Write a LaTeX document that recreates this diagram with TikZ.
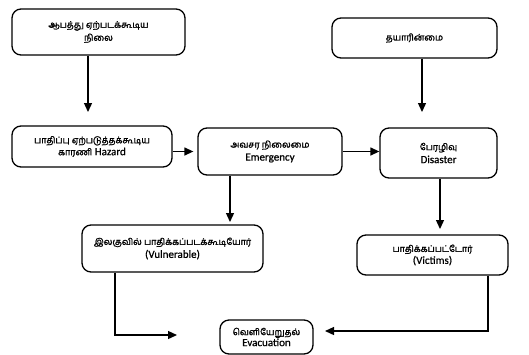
\documentclass[tikz,border=0pt]{standalone}
\usepackage{fontspec}
\setmainfont{Carlito}[FakeBold=0.8]
\newfontfamily\tamil[Script=Tamil,FakeBold=1.6]{Hind Madurai}
\usetikzlibrary{arrows.meta,calc}
\tikzset{
  box/.style={draw=black, line width=1.3pt, rounded corners=9pt, align=center, inner sep=1pt, font=\fontsize{11}{13}\selectfont},
  arr/.style={line width=1.3pt, -{Triangle[length=9pt,width=8pt]}},
  ln/.style={line width=1.3pt}
}
\newcommand{\ta}[1]{{\tamil\fontsize{9}{10}\selectfont #1}}
\begin{document}
\begin{tikzpicture}[x=1pt,y=1pt]
\useasboundingbox[fill=white] (0,0) rectangle (529,-354);
\node[box, minimum width=173pt, minimum height=46pt] (tl) at (98.5,-32) {\ta{ஆபத்து ஏற்படக்கூடிய}\\[0pt]\ta{நிலை}};
\node[box, minimum width=165pt, minimum height=40pt] (tr) at (414.5,-38) {\ta{தயாரின்மை}};
\node[box, minimum width=160pt, minimum height=41pt] (hz) at (92,-146.5) {\ta{பாதிப்பு ஏற்படுத்தக்கூடிய}\\[-1pt]\ta{காரணி} Hazard};
\node[box, minimum width=144pt, minimum height=47pt] (em) at (270,-151.5) {\ta{அவசர நிலைமை}\\[0pt]Emergency};
\node[box, minimum width=117pt, minimum height=50pt] (ds) at (438.5,-153) {\ta{பேரழிவு}\\[0pt]Disaster};
\node[box, minimum width=181pt, minimum height=47pt] (vu) at (172.5,-248.5) {\ta{இலகுவில் பாதிக்கப்படக்கூடியோர்}\\[0pt](Vulnerable)};
\node[box, minimum width=151pt, minimum height=40pt] (vi) at (432.5,-255) {\ta{பாதிக்கப்பட்டோர்}\\[-1pt](Victims)};
\node[box, minimum width=93pt, minimum height=34pt] (ev) at (266.5,-337) {\ta{வெளியேறுதல்}\\[-2pt]Evacuation};
\coordinate (a1) at (88,-112);
\coordinate (a2) at (422,-112);
\coordinate (a3) at (230,-222);
\coordinate (a4) at (440,-229);
\coordinate (v1) at (115,-335);
\coordinate (v2) at (177,-335);
\coordinate (w1) at (488,-331);
\coordinate (w2) at (325,-331);
\draw[arr] (tl.south -| a1) -- (a1);
\draw[arr] (tr.south -| a2) -- (a2);
\draw[arr] (hz.east |- em.west) -- ($(em.west)+(-4,0)$);
\draw[arr] (em.east) -- (ds.west |- em.east);
\draw[arr] (em.south -| a3) -- (a3);
\draw[arr] (ds.south -| a4) -- (a4);
\draw[arr] (vu.south -| v1) -- (v1) -- (v2);
\draw[arr] (vi.south -| w1) -- (w1) -- (w2);
\end{tikzpicture}
\end{document}
